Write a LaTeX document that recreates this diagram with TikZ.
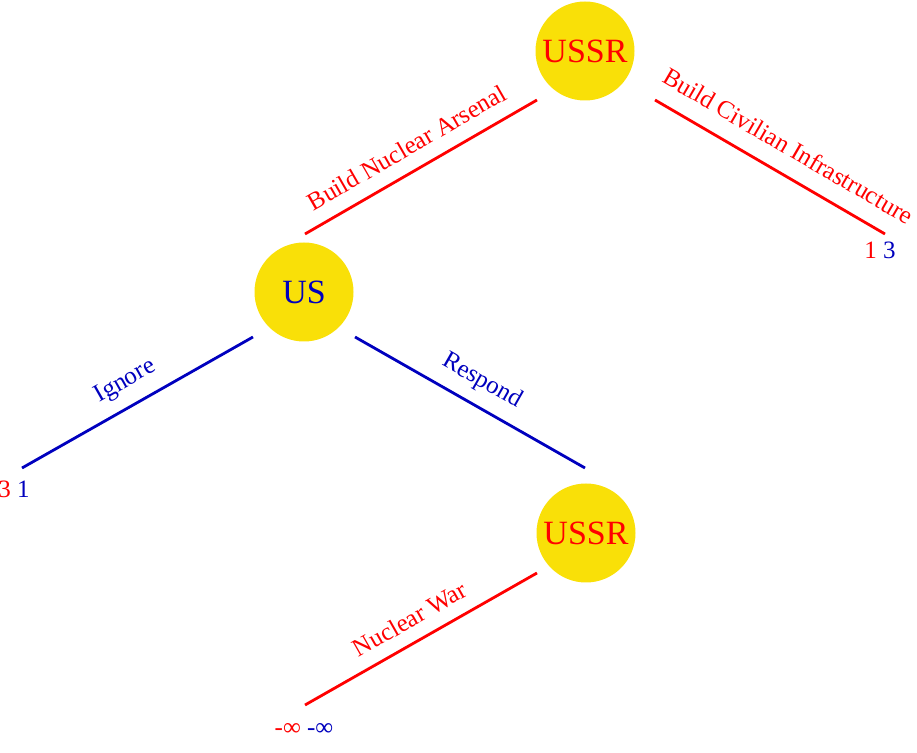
\documentclass[tikz,border=0pt]{standalone}
\usepackage{fontspec}
\setmainfont{Liberation Serif}
\definecolor{ussrred}{RGB}{255,0,0}
\definecolor{usblue}{RGB}{0,0,190}
\definecolor{nodeyellow}{RGB}{249,224,8}
\begin{document}
\begin{tikzpicture}[x=1pt,y=1pt,
  player/.style={circle, fill=nodeyellow, minimum size=99pt, inner sep=0pt, font=\fontsize{34}{38}\selectfont},
  move/.style={line width=2.8pt},
  lbl/.style={sloped, above=#1, anchor=center, inner sep=0pt, font=\fontsize{25}{29}\selectfont},
  pay/.style={inner sep=0pt, anchor=base, font=\fontsize{25}{29}\selectfont}]
\useasboundingbox (0,0) rectangle (917,752);
% players
\node[player, text=ussrred] (ussr1) at (585,701) {USSR};
\node[player, text=usblue] (us) at (304,460) {US};
\node[player, text=ussrred] (ussr2) at (586,219) {USSR};
% move end points
\coordinate (a1) at (537,652); \coordinate (a2) at (305,518);
\coordinate (b1) at (655,652); \coordinate (b2) at (885,518);
\coordinate (c1) at (253,415); \coordinate (c2) at (22,284);
\coordinate (d1) at (355,415); \coordinate (d2) at (585,284);
\coordinate (e1) at (537,179); \coordinate (e2) at (305,47);
% moves
\draw[move, ussrred] (a2) -- (a1) node[lbl=24pt, pos=0.49] {Build Nuclear Arsenal};
\draw[move, ussrred] (b1) -- (b2) node[lbl=27.5pt, pos=0.52] {Build Civilian Infrastructure};
\draw[move, usblue] (c2) -- (c1) node[lbl=24pt, pos=0.5] {Ignore};
\draw[move, usblue] (d1) -- (d2) node[lbl=24.5pt, pos=0.5] {Respond};
\draw[move, ussrred] (e2) -- (e1) node[lbl=23pt, pos=0.5] {Nuclear War};
% payoffs
\node[pay] (p1) at (880,493) {\textcolor{ussrred}{1} \textcolor{usblue}{3}};
\node[pay] (p2) at (14,254) {\textcolor{ussrred}{3} \textcolor{usblue}{1}};
\node[pay] (p3) at (304,17) {\textcolor{ussrred}{-∞} \textcolor{usblue}{-∞}};
\end{tikzpicture}
\end{document}
